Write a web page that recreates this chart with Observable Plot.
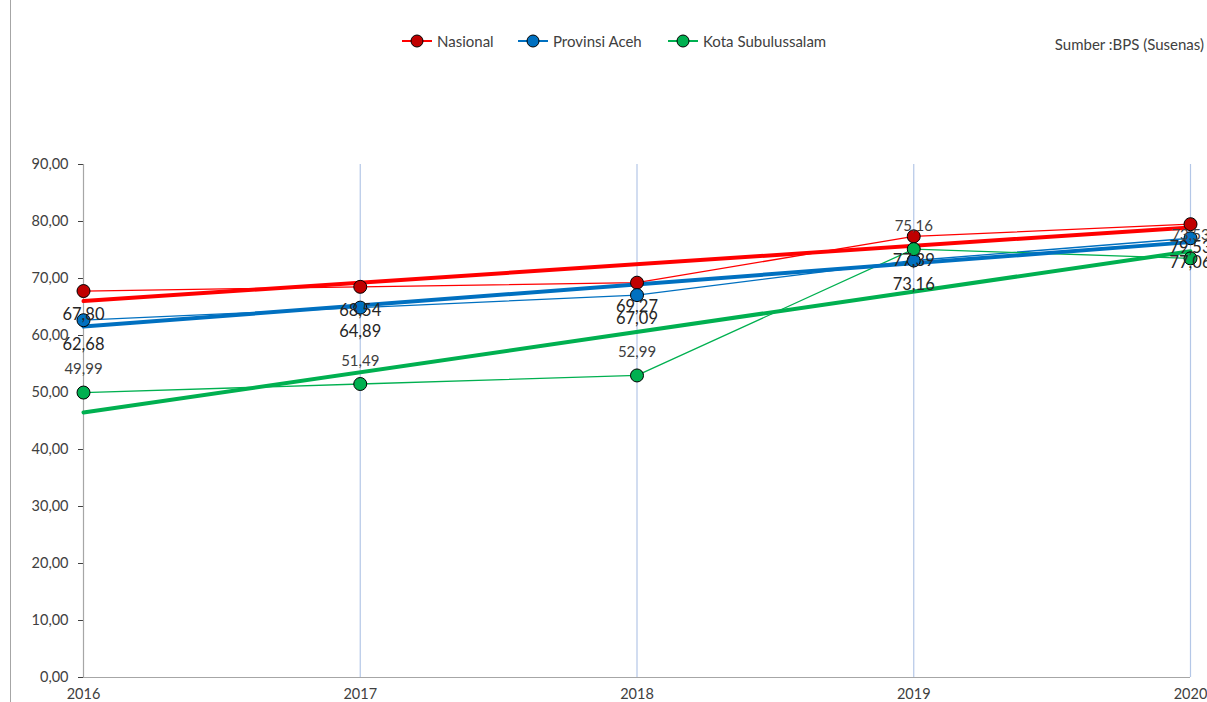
<!DOCTYPE html>
<html>
<head>
<meta charset="utf-8">
<script src="https://cdn.jsdelivr.net/npm/d3@7"></script>
<script src="https://cdn.jsdelivr.net/npm/@observablehq/plot@0.6"></script>
<style>
  html, body { margin: 0; padding: 0; background: #fff; }
  body { width: 1207px; height: 702px; overflow: hidden; position: relative; font-family: Lato, "Open Sans", sans-serif; }
  #border { position: absolute; left: 10px; top: 0; width: 0; height: 702px; border-left: 1px solid #a6a6a6; }
  #legend { position: absolute; top: 29px; left: 0; width: 1207px; height: 24px; }
  .item { position: absolute; top: 0; height: 24px; display: flex; align-items: center; font-size: 15px; color: #404040; }
  .item svg { margin-right: 5px; }
  #source { position: absolute; top: 35px; right: 3px; font-size: 15px; color: #404040; }
  #chart { position: absolute; top: 0; left: 0; }
</style>
</head>
<body>
<div id="chart"></div>
<div id="border"></div>
<div id="legend"></div>
<div id="source">Sumber :BPS (Susenas)</div>
<script>
const years = [2016, 2017, 2018, 2019, 2020];
const seriesNames = ["Nasional", "Provinsi Aceh", "Kota Subulussalam"];
const nasional = [67.80, 68.54, 69.27, 77.39, 79.53];
const aceh = [62.68, 64.89, 67.09, 73.16, 77.06];
const kota = [49.99, 51.49, 52.99, 75.16, 73.53];
const yTicks = [0, 10, 20, 30, 40, 50, 60, 70, 80, 90];

const lineColors = ["#ff0000", "#0070c0", "#00b050"];
const dotColors = ["#c00000", "#0070c0", "#00b050"];

const valuesBySeries = [nasional, aceh, kota];
const data = [];
seriesNames.forEach((s, i) => {
  years.forEach((y, j) => data.push({series: s, year: y, value: valuesBySeries[i][j]}));
});
const fmt = v => v.toFixed(2).replace(".", ",");

const lineColor = d => lineColors[seriesNames.indexOf(d.series)];
const dotColor = d => dotColors[seriesNames.indexOf(d.series)];

const below = data.filter(d => d.series !== "Kota Subulussalam");
const above = data.filter(d => d.series === "Kota Subulussalam");

const plot = Plot.plot({
  width: 1207,
  height: 702,
  marginTop: 164,
  marginBottom: 25,
  marginLeft: 83,
  marginRight: 17,
  style: {fontFamily: "Lato, 'Open Sans', sans-serif", color: "#404040", background: "transparent", overflow: "visible"},
  x: {domain: [2016, 2020], ticks: years, tickFormat: d => String(d), tickSize: 0, tickPadding: 11, label: null},
  y: {domain: [0, 90], ticks: yTicks, tickFormat: fmt, tickSize: 5, tickPadding: 10, label: null},
  marks: [
    Plot.ruleX(years.slice(1), {stroke: "#b4c7e7", strokeWidth: 1.2}),
    Plot.ruleX([2016], {stroke: "#a6a6a6", strokeWidth: 1.2}),
    Plot.ruleY([0], {stroke: "#a6a6a6", strokeWidth: 1.2}),
    Plot.line(data, {x: "year", y: "value", z: "series", stroke: lineColor, strokeWidth: 1.3}),
    Plot.linearRegressionY(data, {x: "year", y: "value", z: "series", stroke: lineColor, strokeWidth: 4, ci: 0}),
    Plot.dot(data, {x: "year", y: "value", fill: dotColor, stroke: "#000", strokeWidth: 1, r: 6.5}),
    Plot.text(below, {x: "year", y: "value", text: d => fmt(d.value), dy: 24, fontSize: 16.5, fill: "#262626"}),
    Plot.text(above, {x: "year", y: "value", text: d => fmt(d.value), dy: -23, fontSize: 15, fill: "#404040"})
  ]
});
plot.querySelectorAll("[aria-label='y-axis tick label'] text, [aria-label='x-axis tick label'] text").forEach(t => t.setAttribute("font-size", "14.5"));
document.getElementById("chart").appendChild(plot);

// legend
const legend = document.getElementById("legend");
const lefts = [402, 518, 668];
seriesNames.forEach((s, i) => {
  const item = document.createElement("div");
  item.className = "item";
  item.style.left = lefts[i] + "px";
  item.innerHTML = `<svg width="30" height="24"><line x1="0" y1="12" x2="30" y2="12" stroke="${lineColors[i]}" stroke-width="2"/><circle cx="15" cy="12" r="6" fill="${dotColors[i]}" stroke="#000" stroke-width="1"/></svg><span>${s}</span>`;
  legend.appendChild(item);
});
</script>
</body>
</html>
